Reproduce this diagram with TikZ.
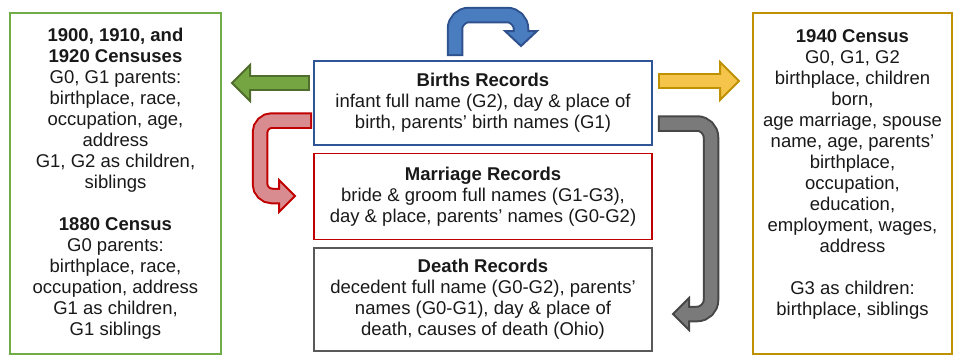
\documentclass[tikz,border=0pt]{standalone}
\usepackage{fontspec}
\setmainfont{Liberation Sans}
\usepackage{tikz}
\usetikzlibrary{positioning,calc}

\definecolor{greenbox}{HTML}{70AD47}
\definecolor{greenline}{HTML}{4F6D2B}
\definecolor{greenfill}{HTML}{75A442}
\definecolor{bluebox}{HTML}{2F5597}
\definecolor{blueline}{HTML}{2F528F}
\definecolor{bluefill}{HTML}{4A7DC0}
\definecolor{redbox}{HTML}{C00000}
\definecolor{redfill}{HTML}{D98C90}
\definecolor{greybox}{HTML}{595959}
\definecolor{greyline}{HTML}{474747}
\definecolor{greyfill}{HTML}{7A7A7A}
\definecolor{goldbox}{HTML}{BF9000}
\definecolor{goldfill}{HTML}{F4C54A}

\begin{document}
\begin{tikzpicture}[x=1pt, y=-1pt, font=\fontsize{18.5}{21}\selectfont,
    box/.style = {draw, line width=1.6pt, align=center, inner sep=0pt, text=black!90},
    blockline/.style 2 args = {draw=#2, line width=12.5pt, shorten <=2pt, shorten >=-2pt,
        preaction={draw=#1, line width=16.5pt, shorten <=0pt, shorten >=0pt}},
    blockhead/.style 2 args = {draw=#1, fill=#2, line width=2pt, line join=miter}]
    \useasboundingbox (0,0) rectangle (954,356);

    \node[box, draw=greenbox, minimum width=211pt, minimum height=341pt] (early) at (115.5,183.5)
        {\textbf{1900, 1910, and}\\ \textbf{1920 Censuses}\\ G0, G1 parents:\\ birthplace, race,\\
         occupation, age,\\ address\\ G1, G2 as children,\\ siblings\\[21pt]
         \textbf{1880 Census}\\ G0 parents:\\ birthplace, race,\\ occupation, address\\
         G1 as children,\\ G1 siblings};
    \node[box, draw=bluebox, minimum width=338pt, minimum height=84pt] (births) at (483,103)
        {\textbf{Births Records}\\ infant full name (G2), day \& place of\\ birth, parents' birth names (G1)};
    \node[box, draw=redbox, minimum width=338pt, minimum height=86pt, below=7pt of births] (marriage)
        {\textbf{Marriage Records}\\ bride \& groom full names (G1-G3),\\ day \& place, parents' names (G0-G2)};
    \node[box, draw=greybox, minimum width=338pt, minimum height=103pt, below=7pt of marriage] (death)
        {\textbf{Death Records}\\ decedent full name (G0-G2), parents'\\ names (G0-G1), day \& place of\\
         death, causes of death (Ohio)};
    \node[box, draw=goldbox, minimum width=199pt, minimum height=341pt] (late) at (852.5,183.5)
        {\textbf{1940 Census}\\ G0, G1, G2\\ birthplace, children\\ born,\\ age marriage, spouse\\
         name, age, parents'\\ birthplace,\\ occupation,\\ education,\\ employment, wages,\\
         address\\[21pt] G3 as children:\\ birthplace, siblings\\ \mbox{}};

    \filldraw[blockhead={greenline}{greenfill}] (250,65) -- (232,83) -- (250,101) -- cycle;
    \draw[blockline={greenline}{greenfill}] ($(births.west |- 0,83)+(-3,0)$) -- (250,83);

    \filldraw[blockhead={goldbox}{goldfill}] (720,62) -- (739,81) -- (720,100) -- cycle;
    \draw[blockline={goldbox}{goldfill}] ($(births.east |- 0,81)+(5,0)$) -- (720,81);

    \filldraw[blockhead={blueline}{bluefill}] (505,31) -- (521,46) -- (537,31) -- cycle;
    \draw[blockline={blueline}{bluefill}, rounded corners=14pt]
        ($(births.north)+(-28,-4)$) -- (455,15) -- (521,15) -- (521,31);

    \filldraw[blockhead={redbox}{redfill}] (279,180) -- (295,196) -- (279,212) -- cycle;
    \draw[blockline={redbox}{redfill}, rounded corners=12pt]
        ($(births.west |- 0,120.5)+(-1,0)$) -- (260,120.5) -- (260,196) -- (279,196);

    \filldraw[blockhead={greyline}{greyfill}] (689,298) -- (673,314) -- (689,330) -- cycle;
    \draw[blockline={greyline}{greyfill}, rounded corners=14pt]
        ($(births.east |- 0,123.5)+(5,0)$) -- (711,123.5) -- (711,314) -- (689,314);
\end{tikzpicture}
\end{document}
